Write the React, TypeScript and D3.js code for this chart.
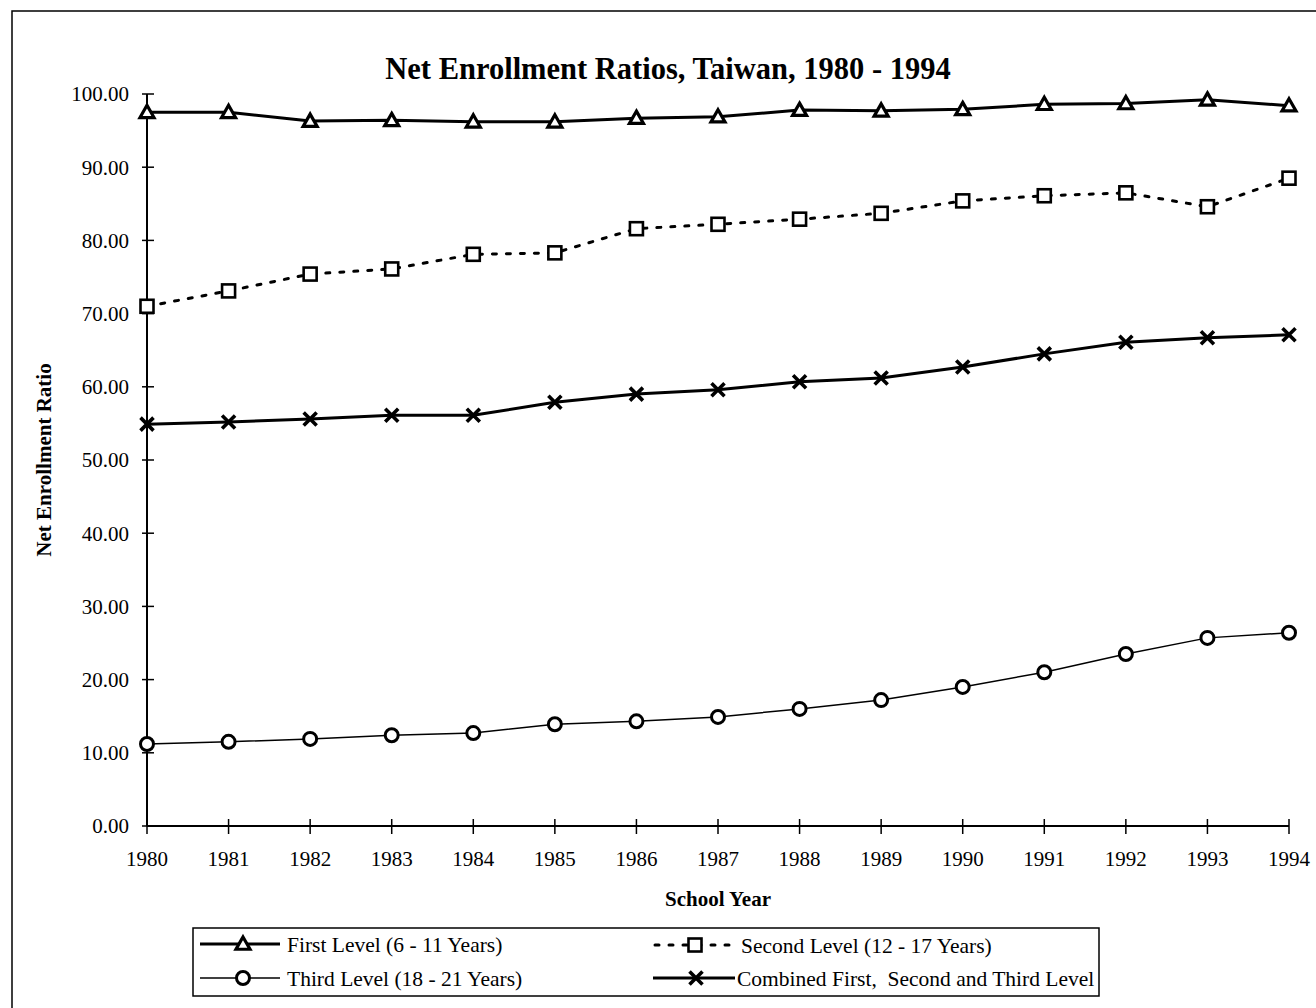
import React from "react";
import * as d3 from "d3";

const years = [1980, 1981, 1982, 1983, 1984, 1985, 1986, 1987, 1988, 1989, 1990, 1991, 1992, 1993, 1994];
const firstLevel = [97.5, 97.5, 96.3, 96.4, 96.2, 96.2, 96.7, 96.9, 97.8, 97.7, 97.9, 98.6, 98.7, 99.2, 98.4];
const secondLevel = [71.0, 73.1, 75.4, 76.1, 78.1, 78.3, 81.6, 82.2, 82.9, 83.7, 85.4, 86.1, 86.5, 84.6, 88.5];
const thirdLevel = [11.2, 11.5, 11.9, 12.4, 12.7, 13.9, 14.3, 14.9, 16.0, 17.2, 19.0, 21.0, 23.5, 25.7, 26.4];
const combined = [54.9, 55.2, 55.6, 56.1, 56.1, 57.9, 59.0, 59.6, 60.7, 61.2, 62.7, 64.5, 66.1, 66.7, 67.1];
const yTicks = [0, 10, 20, 30, 40, 50, 60, 70, 80, 90, 100];

const title = "Net Enrollment Ratios, Taiwan, 1980 - 1994";
const yTitle = "Net Enrollment Ratio";
const xTitle = "School Year";
const legendLabels = [
  "First Level (6 - 11 Years)",
  "Second Level (12 - 17 Years)",
  "Third Level (18 - 21 Years)",
  "Combined First,\u00a0 Second and Third Level",
];

const FONT = "'Liberation Serif', 'Times New Roman', serif";

type Marker = "triangle" | "square" | "circle" | "x";

function MarkerShape({ type, cx, cy }: { type: Marker; cx: number; cy: number }) {
  if (type === "triangle") {
    const s = 7;
    return (
      <path
        d={`M${cx},${cy - s} L${cx + s},${cy + s * 0.75} L${cx - s},${cy + s * 0.75} Z`}
        fill="#fff"
        stroke="#000"
        strokeWidth={3.2}
        strokeLinejoin="miter"
      />
    );
  }
  if (type === "square") {
    const s = 6.5;
    return <rect x={cx - s} y={cy - s} width={2 * s} height={2 * s} fill="#fff" stroke="#000" strokeWidth={2.6} />;
  }
  if (type === "circle") {
    return <circle cx={cx} cy={cy} r={6.5} fill="#fff" stroke="#000" strokeWidth={3} />;
  }
  const s = 6.5;
  return (
    <path
      d={`M${cx - s},${cy - s} L${cx + s},${cy + s} M${cx - s},${cy + s} L${cx + s},${cy - s}`}
      stroke="#000"
      strokeWidth={3.6}
      fill="none"
    />
  );
}

export default function App() {
  const W = 1316;
  const H = 1008;
  const x = d3.scaleLinear().domain([1980, 1994]).range([147, 1289]);
  const y = d3.scaleLinear().domain([0, 100]).range([826, 94]);

  const series: { values: number[]; marker: Marker; width: number; dash?: string }[] = [
    { values: firstLevel, marker: "triangle", width: 3 },
    { values: secondLevel, marker: "square", width: 3, dash: "4 10" },
    { values: thirdLevel, marker: "circle", width: 1.5 },
    { values: combined, marker: "x", width: 3 },
  ];

  const line = d3
    .line<number>()
    .x((_, i) => x(years[i]))
    .y((d) => y(d));

  const legendPos = [
    { x1: 200, x2: 280, mx: 243, tx: 287, ty: 944 },
    { x1: 655, x2: 738, mx: 695, tx: 741, ty: 945 },
    { x1: 200, x2: 280, mx: 243, tx: 287, ty: 978 },
    { x1: 653, x2: 735, mx: 696, tx: 737, ty: 978 },
  ];

  return (
    <svg
      width={W}
      height={H}
      viewBox={`0 0 ${W} ${H}`}
      style={{ position: "absolute", left: 0, top: 0, background: "#fff" }}
      fontFamily={FONT}
    >
      <rect x={0} y={0} width={W} height={H} fill="#fff" />
      {/* outer frame */}
      <rect x={12} y={11} width={W + 20} height={H + 20} fill="none" stroke="#000" strokeWidth={1.5} />

      {/* title */}
      <text x={668} y={79} textAnchor="middle" fontSize={30.5} fontWeight="bold">
        {title}
      </text>

      {/* y axis */}
      <line x1={x(1980)} x2={x(1980)} y1={y(0)} y2={y(100)} stroke="#000" strokeWidth={2} />
      {yTicks.map((t) => (
        <g key={t}>
          <line x1={x(1980) - 5} x2={x(1980) + 7} y1={y(t)} y2={y(t)} stroke="#000" strokeWidth={1.5} />
          <text x={129} y={y(t)} dy="0.35em" textAnchor="end" fontSize={21}>
            {t.toFixed(2)}
          </text>
        </g>
      ))}

      {/* x axis */}
      <line x1={x(1980)} x2={x(1994)} y1={y(0)} y2={y(0)} stroke="#000" strokeWidth={1.8} />
      {years.map((yr) => (
        <g key={yr}>
          <line x1={x(yr)} x2={x(yr)} y1={y(0) - 7} y2={y(0) + 8} stroke="#000" strokeWidth={1.5} />
          <text x={x(yr)} y={866} textAnchor="middle" fontSize={21}>
            {yr}
          </text>
        </g>
      ))}

      {/* axis titles */}
      <text
        transform={`translate(51,460) rotate(-90)`}
        textAnchor="middle"
        fontSize={21}
        fontWeight="bold"
      >
        {yTitle}
      </text>
      <text x={718} y={906} textAnchor="middle" fontSize={21} fontWeight="bold">
        {xTitle}
      </text>

      {/* series */}
      {series.map((s, si) => (
        <g key={si}>
          <path
            d={line(s.values) || ""}
            fill="none"
            stroke="#000"
            strokeWidth={s.width}
            strokeDasharray={s.dash}
            strokeLinecap={s.dash ? "round" : "butt"}
          />
          {s.values.map((v, i) => (
            <MarkerShape key={i} type={s.marker} cx={x(years[i])} cy={y(v)} />
          ))}
        </g>
      ))}

      {/* legend */}
      <rect x={193} y={928} width={906} height={68} fill="#fff" stroke="#000" strokeWidth={1.5} />
      {series.map((s, i) => {
        const p = legendPos[i];
        const ly = p.ty;
        return (
          <g key={i}>
            <line
              x1={p.x1}
              x2={p.x2}
              y1={ly}
              y2={ly}
              stroke="#000"
              strokeWidth={s.width}
              strokeDasharray={s.dash}
              strokeLinecap={s.dash ? "round" : "butt"}
            />
            <MarkerShape type={s.marker} cx={p.mx} cy={ly} />
            <text x={p.tx} y={ly} dy="0.35em" fontSize={21.5}>
              {legendLabels[i]}
            </text>
          </g>
        );
      })}
    </svg>
  );
}
